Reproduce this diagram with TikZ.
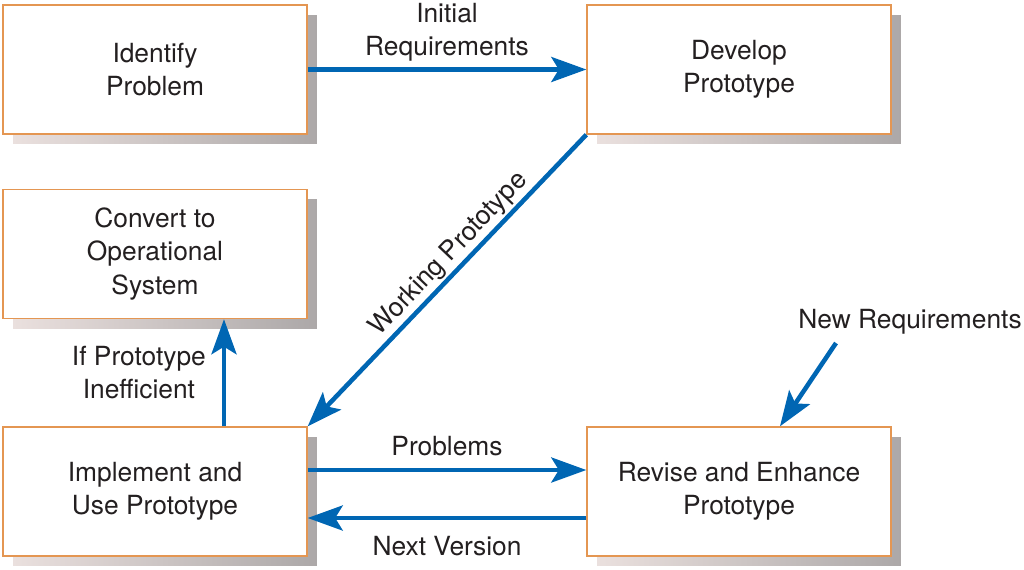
\documentclass[tikz,border=0pt]{standalone}
\usepackage{fontspec}
\setmainfont{TeX Gyre Heros}
\usetikzlibrary{arrows.meta,positioning,shadows}
\definecolor{flowblue}{RGB}{0,102,179}
\definecolor{boxorange}{RGB}{228,150,82}
\definecolor{shadowlight}{RGB}{234,224,222}
\definecolor{shadowdark}{RGB}{172,168,168}
\definecolor{textgray}{RGB}{35,31,32}

\begin{document}
\begin{tikzpicture}[
    x=0.02cm, y=-0.02cm,
    font=\fontsize{15}{18.8}\selectfont,
    box/.style={rectangle, draw=boxorange, line width=0.8pt, fill=white, text=textgray, minimum width=6.08cm, minimum height=2.58cm, align=center,
        general shadow={shadow xshift=0.2cm, shadow yshift=-0.2cm, shading=axis, left color=shadowlight, right color=shadowdark}},
    arrow/.style={-{Stealth[length=7mm, width=5mm, inset=1.5mm]}, line width=2.6pt, draw=flowblue},
    lbl/.style={text=textgray, align=center}
]
\useasboundingbox (0,0) rectangle (1024,569);

% boxes
\node[box] (identify) at (155,69.5) {Identify\\Problem};
\node[box] (develop) at (739,69.5) {Develop\\Prototype};
\node[box] (convert) at (155,254) {Convert to\\Operational\\System};
\node[box] (implement) at (155,491.5) {Implement and\\Use Prototype};
\node[box] (revise) at (739,491.5) {Revise and Enhance\\Prototype};

% flows
\draw[arrow] (identify.east) -- node[lbl, above] {Initial\\Requirements} (develop.west);
\draw[arrow] (develop.south west) -- node[lbl, sloped, above, pos=0.45, inner sep=1pt] {Working Prototype} (implement.north east);
\draw[arrow] ([xshift=1.38cm]implement.north) -- node[lbl, left, xshift=-0.2cm] {If Prototype\\Inefficient} ([xshift=1.38cm]convert.south);
\draw[arrow] ([yshift=0.43cm]implement.east) -- node[lbl, above, yshift=0.12cm] {Problems} ([yshift=0.43cm]revise.west);
\draw[arrow] ([yshift=-0.53cm]revise.west) -- node[lbl, below, yshift=-0.2cm] {Next Version} ([yshift=-0.53cm]implement.east);

\node[lbl] (newreq) at (910,322) {New Requirements};
\coordinate (nrstart) at (836,343);
\draw[arrow] (nrstart) -- ([xshift=0.82cm]revise.north);
\end{tikzpicture}
\end{document}
